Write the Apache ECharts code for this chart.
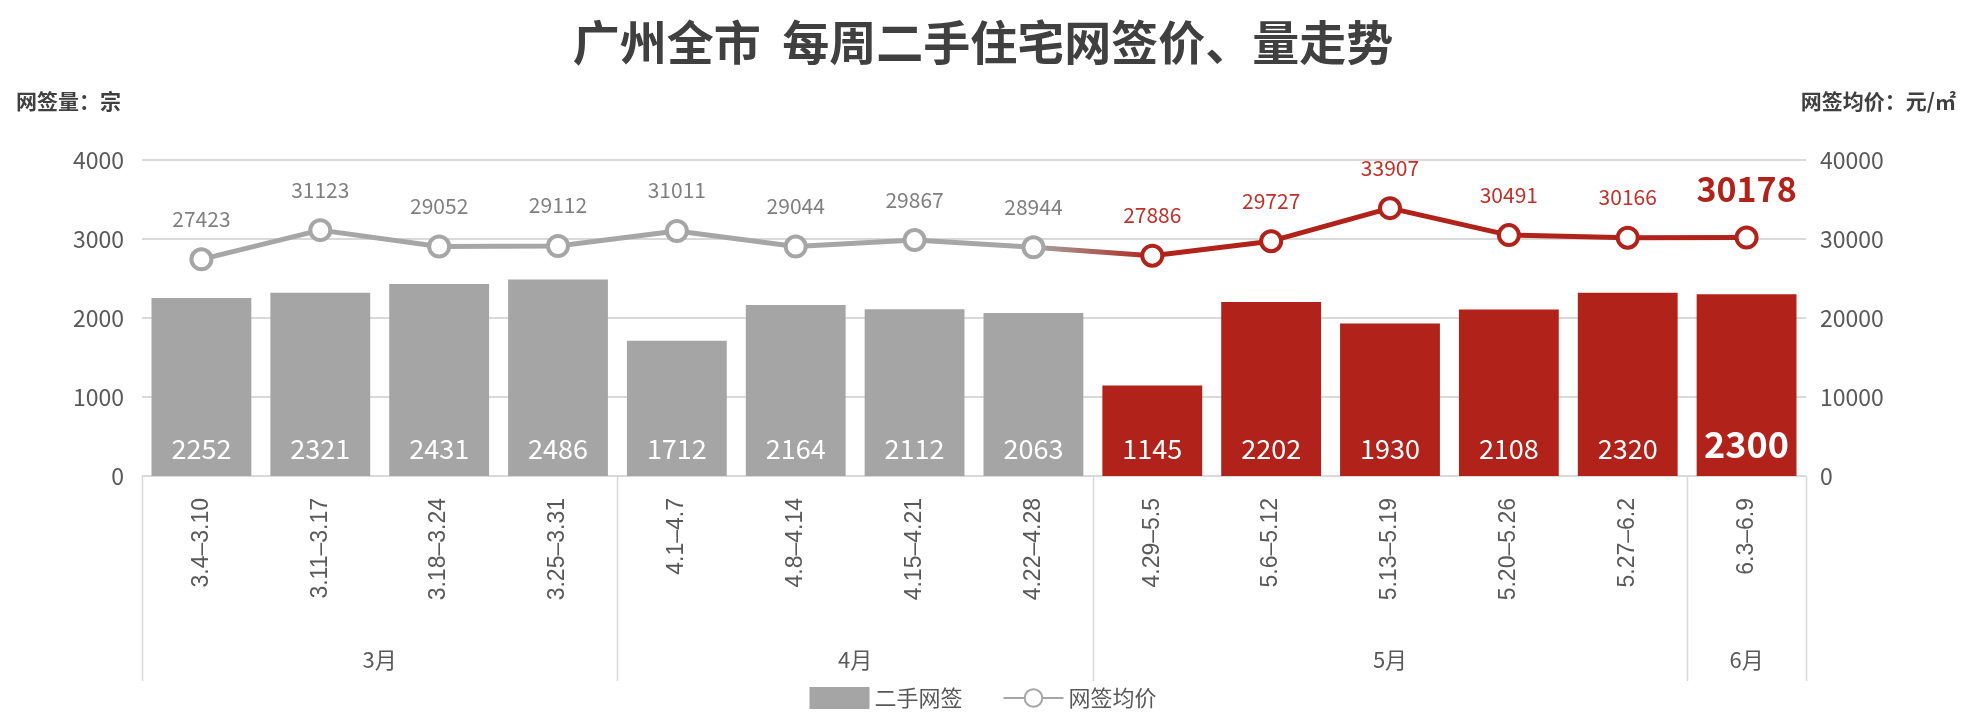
<!DOCTYPE html><html><head><meta charset="utf-8">
<script src="https://cdn.jsdelivr.net/npm/echarts@6/dist/echarts.min.js"></script>
<style>html,body{margin:0;padding:0;background:#fff}#c{width:1966px;height:722px}</style></head><body><div id="c"></div>
<script>
const weeks=['3.4–3.10','3.11–3.17','3.18–3.24','3.25–3.31','4.1–4.7','4.8–4.14','4.15–4.21','4.22–4.28','4.29–5.5','5.6–5.12','5.13–5.19','5.20–5.26','5.27–6.2','6.3–6.9'];
const volume=[2252,2321,2431,2486,1712,2164,2112,2063,1145,2202,1930,2108,2320,2300];
const price=[27423,31123,29052,29112,31011,29044,29867,28944,27886,29727,33907,30491,30166,30178];
const months=[{name:'3月',from:0,to:4},{name:'4月',from:4,to:8},{name:'5月',from:8,to:13},{name:'6月',from:13,to:14}];
const GRAY='#a5a5a5',RED='#b0221a',LGRAY='#a6a6a6',LRED='#c0302a';
const redFrom=8;
const font='"Noto Sans CJK SC","Liberation Sans",sans-serif';
const chart=echarts.init(document.getElementById('c'));
const last=weeks.length-1;
chart.setOption({
 animation:false,
 textStyle:{fontFamily:font},
 title:{text:'广州全市  每周二手住宅网签价、量走势',left:'center',top:14,textStyle:{fontSize:47,fontWeight:'bold',color:'#404040',fontFamily:font}},
 grid:{left:142,right:160,top:160,bottom:246},
 legend:{bottom:8,left:'center',itemWidth:60,itemHeight:22,itemGap:40,textStyle:{fontSize:22,color:'#595959'},
   data:[{name:'二手网签',icon:'rect'},{name:'网签均价',lineStyle:{color:LGRAY},itemStyle:{color:'#fff',borderColor:LGRAY}}]},
 xAxis:{type:'category',data:weeks,axisTick:{show:false},axisLine:{lineStyle:{color:'#d9d9d9'}},
   axisLabel:{rotate:90,fontSize:23,color:'#595959',margin:22,fontFamily:'"Liberation Sans",sans-serif'}},
 yAxis:[
  {type:'value',min:0,max:4000,interval:1000,name:'网签量：宗',nameLocation:'end',nameGap:48,
   nameTextStyle:{fontSize:21,color:'#404040',align:'left',padding:[0,0,0,-126],fontWeight:'bold'},
   axisLabel:{fontSize:23,color:'#595959',margin:18,formatter:v=>String(v)},splitLine:{lineStyle:{color:'#d9d9d9',width:2}},axisLine:{show:false},axisTick:{show:false}},
  {type:'value',min:0,max:40000,interval:10000,name:'网签均价：元/㎡',nameLocation:'end',nameGap:48,
   nameTextStyle:{fontSize:21,color:'#404040',align:'right',padding:[0,-150,0,0],fontWeight:'bold'},
   axisLabel:{fontSize:23,color:'#595959',margin:14,formatter:v=>String(v)},splitLine:{show:false},axisLine:{show:false},axisTick:{show:false}}
 ],
 series:[
  {name:'二手网签',type:'bar',barCategoryGap:'16%',itemStyle:{color:GRAY},
   data:volume.map((v,i)=>({value:v,itemStyle:{color:i>=redFrom?RED:GRAY},
     label:i===last?{fontSize:36,fontWeight:'bold'}:{}})),
   label:{show:true,position:'insideBottom',distance:14,color:'#fff',fontSize:27}},
  {name:'网签均价',type:'line',yAxisIndex:1,symbol:'circle',symbolSize:20,
   itemStyle:{color:'#fff',borderColor:LGRAY,borderWidth:4},
   lineStyle:{width:5,color:new echarts.graphic.LinearGradient(0,0,1,0,[
     {offset:0,color:LGRAY},{offset:7/13,color:LGRAY},{offset:8/13,color:RED},{offset:1,color:RED}])},
   data:price.map((v,i)=>({value:v,itemStyle:{borderColor:i>=redFrom?RED:LGRAY},
     label:i===last?{fontSize:34,fontWeight:'bold',color:RED,distance:20}:{color:i>=redFrom?LRED:'#7f7f7f'}})),
   label:{show:true,position:'top',distance:18,fontSize:21}}
 ]
});
const y0=chart.convertToPixel({yAxisIndex:0},0);
const half=(chart.convertToPixel({xAxisIndex:0},1)-chart.convertToPixel({xAxisIndex:0},0))/2;
const edge=i=>chart.convertToPixel({xAxisIndex:0},Math.min(i,last))+(i>last?half:-half);
const g=[];
const bounds=[0,4,8,13,14];
bounds.forEach(b=>{const x=Math.round(edge(b))+0.5;g.push({type:'line',shape:{x1:x,y1:y0,x2:x,y2:y0+205},style:{stroke:'#d9d9d9',lineWidth:1.5}});});
months.forEach(m=>{const x=(edge(m.from)+edge(m.to))/2;g.push({type:'text',x:x,y:y0+184,style:{text:m.name,fill:'#595959',font:'22px '+font,align:'center',verticalAlign:'middle'}});});
chart.setOption({graphic:g});
</script></body></html>
